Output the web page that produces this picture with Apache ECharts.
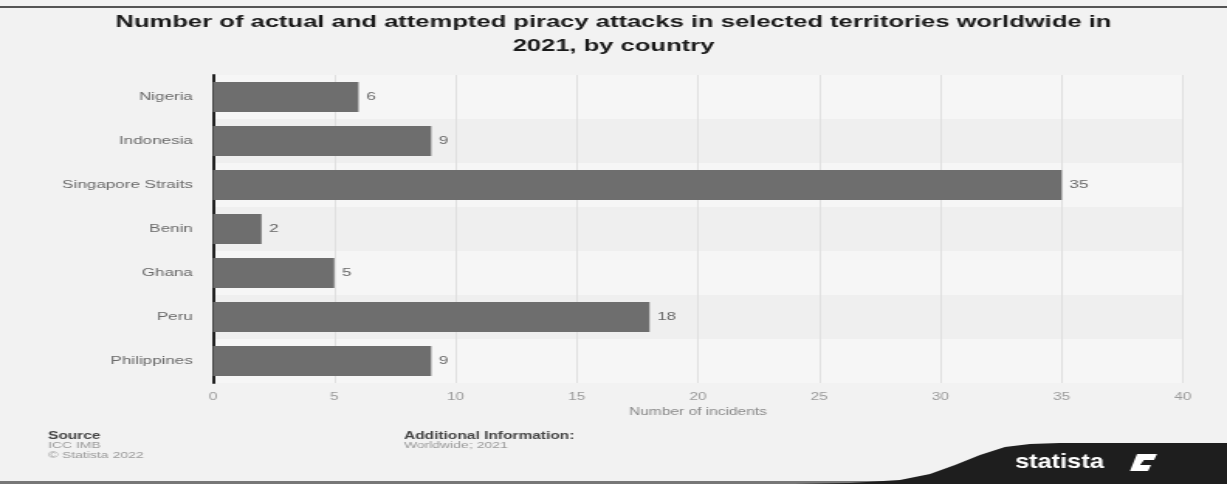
<!DOCTYPE html>
<html><head><meta charset="utf-8">
<script src="https://cdn.jsdelivr.net/npm/echarts@6/dist/echarts.min.js"></script>
<style>
html,body{margin:0;padding:0;background:#f2f2f2;overflow:hidden}
#wrap{width:1227px;height:484px;overflow:hidden}
#c{width:792px;height:484px;transform:scaleX(1.5492);transform-origin:0 0}
</style>
</head><body><div id="wrap"><div id="c"></div></div>
<script>
const categories = ['Nigeria','Indonesia','Singapore Straits','Benin','Ghana','Peru','Philippines'];
const values = [6, 9, 35, 2, 5, 18, 9];
const xTicks = {min: 0, max: 40, interval: 5};
const titleText = 'Number of actual and attempted piracy attacks in selected territories worldwide in\n2021, by country';

const S = 1.5492; // horizontal stretch of the reference picture
const sx = v => v / S;
// decorative logo wave outline (page pixels)
const wave = [[795,484],[850,483],[900,480],[930,474],[955,465],[980,455],[1005,447],[1030,444],[1060,443],[1227,443],[1227,484]]
  .map(p => [sx(p[0]), p[1]]);
const logoMark = [[1130,471],[1137,454],[1157,454],[1154,460],[1144,460],[1140,465],[1151,465],[1148,471]]
  .map(p => [sx(p[0]), p[1]]);
const FONT = 'Liberation Sans, Arial, sans-serif';

const chart = echarts.init(document.getElementById('c'), null, {renderer: 'canvas'});
chart.setOption({
  backgroundColor: '#f2f2f2',
  animation: false,
  title: {
    text: titleText, left: 'center', top: 5,
    textStyle: {fontFamily: FONT, fontWeight: 'bold', fontSize: 16.5, color: '#1a1a1a', lineHeight: 24}
  },
  grid: {left: sx(213), right: 792 - sx(1183), top: 75, bottom: 101, containLabel: false},
  xAxis: {
    type: 'value', min: xTicks.min, max: xTicks.max, interval: xTicks.interval,
    name: 'Number of incidents', nameLocation: 'middle', nameGap: 24,
    nameTextStyle: {fontFamily: FONT, fontSize: 10, color: '#8a8a8a'},
    axisLine: {show: false}, axisTick: {show: false},
    axisLabel: {fontFamily: FONT, fontSize: 10, color: '#9a9a9a', margin: 9},
    splitLine: {show: true, lineStyle: {color: '#e0e0e0', width: 1}}
  },
  yAxis: {
    type: 'category', data: categories, inverse: true,
    axisLine: {show: true, lineStyle: {color: '#222', width: 2}},
    axisTick: {show: false},
    axisLabel: {fontFamily: FONT, fontSize: 11, color: '#6a6a6a', margin: 13},
    splitArea: {show: true, areaStyle: {color: ['#f6f6f6', '#efefef']}}
  },
  series: [{
    type: 'bar', data: values, barWidth: 30,
    itemStyle: {color: '#6e6e6e'},
    label: {show: true, position: 'right', distance: 5, fontFamily: FONT, fontSize: 11, color: '#666'}
  }],
  graphic: [
    {type: 'rect', shape: {x: 0, y: 6, width: 792, height: 2}, style: {fill: '#555'}},
    {type: 'rect', shape: {x: 0, y: 481, width: 792, height: 3}, style: {fill: '#777'}},
    {type: 'text', x: sx(48), y: 431, style: {text: 'Source', fontFamily: FONT, fontWeight: 'bold', fontSize: 10, fill: '#444'}},
    {type: 'text', x: sx(48), y: 441, style: {text: 'ICC IMB\n© Statista 2022', fontFamily: FONT, fontSize: 9, lineHeight: 10, fill: '#9a9a9a'}},
    {type: 'text', x: sx(404), y: 431, style: {text: 'Additional Information:', fontFamily: FONT, fontWeight: 'bold', fontSize: 10, fill: '#444'}},
    {type: 'text', x: sx(404), y: 441, style: {text: 'Worldwide; 2021', fontFamily: FONT, fontSize: 9, fill: '#9a9a9a'}},
    {type: 'polygon', shape: {points: wave}, style: {fill: '#1e1e1e'}},
    {type: 'text', x: sx(1015), y: 452, scaleX: 0.78, style: {text: 'statista', fontFamily: FONT, fontWeight: 'bold', fontSize: 21, fill: '#fff'}},
    {type: 'polygon', shape: {points: logoMark}, style: {fill: '#fff'}}
  ]
});
</script></body></html>
